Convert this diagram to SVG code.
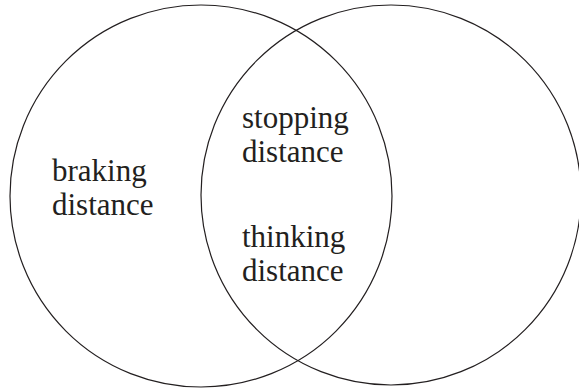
<svg xmlns="http://www.w3.org/2000/svg" width="579" height="392" viewBox="0 0 579 392">
<style>
.c{fill:none;stroke:#231f20;stroke-width:1.2}
.t{font-family:"Liberation Serif","Times New Roman",serif;font-size:31px;fill:#231f20}
</style>
<rect width="579" height="392" fill="#fff"/>
<g id="left-set"><circle class="c" cx="201" cy="196" r="191"/></g>
<g id="right-set"><circle class="c" cx="391" cy="195" r="190"/></g>
<g id="labels">
<text class="t" x="52" y="181">braking</text>
<text class="t" x="52" y="215">distance</text>
<text class="t" x="242" y="128">stopping</text>
<text class="t" x="242" y="162">distance</text>
<text class="t" x="242" y="247">thinking</text>
<text class="t" x="242" y="281">distance</text>
</g>
</svg>
